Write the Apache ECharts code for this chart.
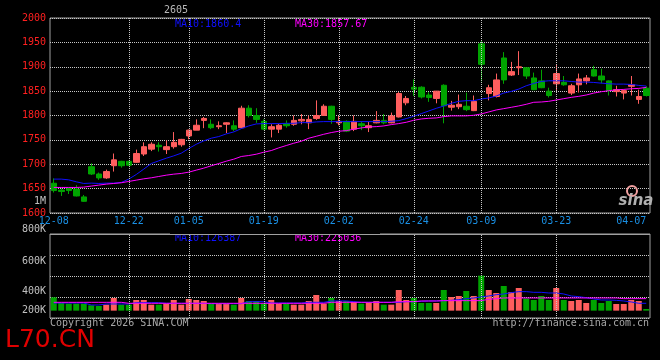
<!DOCTYPE html>
<html><head><meta charset="utf-8">
<script src="https://cdn.jsdelivr.net/npm/echarts@6/dist/echarts.min.js"></script>
<style>html,body{margin:0;padding:0;background:#000;}#c{width:660px;height:360px;}</style>
</head><body><div id="c"></div>
<script>
const dates = ['12-08','12-09','12-10','12-11','12-12','12-15','12-16','12-17','12-18','12-19','12-22','12-23','12-24','12-25','12-26','12-29','12-30','12-31',
'01-05','01-06','01-07','01-08','01-09','01-12','01-13','01-14','01-15','01-16','01-19','01-20','01-21','01-22','01-23','01-26','01-27','01-28','01-29','01-30',
'02-02','02-03','02-04','02-05','02-06','02-09','02-10','02-11','02-12','02-13','02-24','02-25','02-26','02-27',
'03-02','03-03','03-04','03-05','03-06','03-09','03-10','03-11','03-12','03-13','03-16','03-17','03-18','03-19','03-20','03-23','03-24','03-25','03-26','03-27','03-30','03-31',
'04-01','04-02','04-03','04-07','04-08','04-09'];
const labelDates = ['12-08','12-22','01-05','01-19','02-02','02-24','03-09','03-23','04-07'];
const gridDates = ['12-22','01-05','01-19','02-02','02-24','03-09','03-23'];

const opens  = [1661,1647,1650,1649,1633,1695,1680,1672,1697,1706,1706,1704,1721,1731,1739,1730,1736,1740,1758,1770,1790,1782,1777,1782,1779,1775,1815,1800,1788,1772,1772,1783,1782,1789,1785,1794,1800,1819,1785,1788,1772,1783,1775,1785,1790,1785,1797,1826,1858,1858,1842,1835,1862,1817,1818,1819,1810,1947,1845,1839,1918,1883,1898,1898,1877,1871,1850,1865,1868,1846,1863,1871,1894,1881,1871,1849,1846,1860,1833,1856];
const closes = [1646,1644,1646,1635,1624,1680,1672,1685,1709,1697,1698,1722,1736,1741,1736,1736,1745,1751,1770,1780,1794,1775,1779,1785,1772,1815,1800,1792,1772,1777,1780,1779,1790,1792,1792,1800,1819,1792,1788,1768,1788,1779,1779,1790,1785,1799,1845,1835,1854,1838,1837,1850,1820,1821,1823,1812,1829,1905,1857,1873,1873,1890,1900,1881,1853,1857,1841,1886,1863,1861,1875,1877,1881,1873,1851,1853,1851,1863,1839,1841];
const lows   = [1642,1635,1639,1634,1623,1678,1668,1670,1685,1693,1697,1703,1717,1727,1726,1721,1732,1736,1751,1770,1774,1772,1772,1764,1768,1774,1796,1785,1770,1755,1764,1775,1779,1782,1772,1791,1800,1783,1780,1766,1768,1770,1766,1784,1782,1784,1796,1821,1840,1835,1828,1825,1784,1810,1813,1809,1809,1870,1831,1837,1865,1881,1883,1875,1852,1856,1837,1851,1861,1842,1847,1864,1880,1866,1841,1839,1833,1841,1824,1839];
const highs  = [1671,1650,1651,1657,1637,1702,1683,1689,1722,1707,1707,1730,1745,1745,1745,1749,1766,1752,1771,1792,1797,1792,1788,1786,1790,1820,1821,1815,1792,1782,1783,1790,1800,1803,1800,1831,1823,1820,1799,1790,1800,1788,1787,1809,1803,1806,1848,1840,1874,1860,1848,1850,1864,1830,1843,1847,1841,1955,1863,1886,1930,1910,1932,1898,1888,1894,1857,1904,1881,1865,1886,1883,1902,1896,1872,1861,1853,1881,1853,1860];
const ma10 = [1669.5,1669.5,1668,1664,1660.6,1661.3,1660.6,1661.3,1661.3,1662.6,1669.5,1679,1690,1701.5,1707,1712.4,1717.2,1722.7,1732.2,1741,1748,1753.4,1756.8,1762.2,1766.3,1773.1,1778.6,1782.7,1783.4,1783.4,1783.4,1784,1784,1785.4,1785.4,1786.8,1787.5,1787.5,1787.5,1787.5,1787.5,1787.5,1787.5,1787.5,1787.5,1788.1,1789.5,1793.6,1798.4,1803.8,1809.3,1814.7,1819.5,1825,1829.1,1830.4,1830.4,1833.8,1835.9,1840,1846,1849.5,1854.2,1861,1865.8,1869.8,1871.2,1871.2,1871.2,1869.8,1868.5,1868.5,1867.8,1866.4,1865.1,1864.4,1864.4,1863.7,1861.7,1860.4];
const ma30 = [1652.4,1652.4,1652.4,1652.4,1653.1,1655.2,1657.2,1659.2,1660.6,1662,1664.7,1667.4,1670.1,1672.2,1674.9,1677.6,1679.7,1681.1,1683.8,1687.9,1692,1696.8,1701.5,1706.3,1710.4,1715.9,1717.9,1720.6,1724.7,1728.1,1733.6,1738.4,1743.1,1747.2,1753.4,1757.4,1761.5,1765,1767.7,1769,1771.8,1774.5,1776.5,1777.2,1778.6,1781.3,1783.4,1786.1,1790.2,1792.9,1794.3,1795,1797.7,1799.2,1799.2,1799.2,1800.5,1803.2,1807.3,1811.4,1814.1,1816.8,1819.6,1823,1827.1,1827.7,1829.1,1831.8,1834.5,1837.2,1839.3,1842,1846,1848.8,1850.8,1852.8,1853.5,1854.9,1855.6,1857.7];
const volumes = [127000,73000,66700,66700,66700,50800,44500,57200,120700,57200,57200,101600,101600,57200,57200,66700,101600,57200,111100,101600,92100,66700,66700,66700,57200,120700,92100,92100,66700,101600,66700,66700,57200,57200,92100,149200,66700,120700,92100,92100,82600,66700,82600,92100,57200,57200,196900,101600,120700,73000,73000,73000,196900,130200,139700,187300,139700,333400,196900,168300,235000,177800,215900,114300,101600,139700,101600,215900,101600,92100,101600,73000,101600,73000,92100,63500,63500,101600,92100,15900];
const volMa10 = [73000,73000,73000,73000,73000,54000,54000,63500,63500,63500,63500,76200,76200,76200,76200,69900,69900,69900,69900,69900,69900,66700,66700,66700,66700,66700,85700,85700,85700,73000,73000,73000,73000,73000,79400,79400,79400,92100,92100,92100,85700,79400,79400,79400,79400,79400,79400,85700,85700,88900,92100,92100,95300,98400,104800,114300,120700,130200,139700,152400,158800,171500,181000,181000,174600,174600,168300,168300,158800,139700,133400,123800,111100,101600,101600,98400,92100,82600,69900,69900];
const volMa30 = [79400,79400,79400,79400,79400,79400,79400,79400,79400,79400,69900,69900,69900,69900,69900,69900,69900,69900,69900,69900,69900,69900,69900,69900,69900,69900,69900,69900,69900,69900,69900,69900,69900,69900,69900,69900,69900,79400,79400,79400,79400,79400,79400,79400,79400,79400,85700,85700,85700,92100,92100,92100,95300,95300,95300,95300,95300,95300,108000,114300,120700,120700,120700,120700,120700,120700,120700,120700,120700,120700,120700,120700,120700,120700,120700,120700,114300,114300,114300,114300];
const volTickLabels = ['800K','600K','400K','200K'];
const maTexts = ['MA10:1860.4','MA30:1857.67'];
const volMaTexts = ['MA10:126387','MA30:225036'];

const UP = '#ff5e5e', DOWN = '#00a400';
const MONO = '"DejaVu Sans Mono", monospace';
const chart = echarts.init(document.getElementById('c'), null, {renderer:'canvas'});

const kData = dates.map((d,i)=>[opens[i],closes[i],lows[i],highs[i]]);
const vLine = (color)=>({silent:true,symbol:['none','none'],label:{show:false},
  lineStyle:{color:color,type:'dotted',width:1},data:gridDates.map(d=>({xAxis:d}))});

function txt(text,x,y,fill,align,size,extra){
  return Object.assign({type:'text',z:50,style:{text:text,x:x,y:y,fill:fill,
    font:(size||10)+'px '+MONO,align:align||'left',verticalAlign:'middle',
    textAlign:align||'left',textVerticalAlign:'middle'}},extra||{});
}
const volLabelY = [229,261,291,310];

const option = {
  backgroundColor:'#000',
  animation:false,
  grid:[
    {left:50,top:18,width:600,height:195,show:true,borderColor:'#a0a0a0',borderWidth:1,backgroundColor:'transparent'},
    {left:50,top:234,width:600,height:84,show:true,borderColor:'#a0a0a0',borderWidth:1,backgroundColor:'transparent'}
  ],
  xAxis:[
    {type:'category',gridIndex:0,data:dates,boundaryGap:true,
     axisLine:{show:false},axisTick:{show:false},splitLine:{show:false},
     axisLabel:{color:'#1a8fe3',fontFamily:MONO,fontSize:10,margin:3,
       interval:(idx,val)=>labelDates.indexOf(val)>=0}},
    {type:'category',gridIndex:1,data:dates,boundaryGap:true,
     axisLine:{show:false},axisTick:{show:false},splitLine:{show:false},axisLabel:{show:false}}
  ],
  yAxis:[
    {type:'value',gridIndex:0,min:1600,max:2000,interval:50,
     axisLine:{show:false},axisTick:{show:false},
     splitLine:{show:true,lineStyle:{color:'#c8c8c8',type:'dotted',width:1}},
     axisLabel:{color:'#ff2020',fontFamily:MONO,fontSize:10,margin:4,formatter:(v)=>String(v)}},
    {type:'value',gridIndex:1,min:-70000,max:730000,interval:200000,
     axisLine:{show:false},axisTick:{show:false},
     splitLine:{show:true,lineStyle:{color:'#c8c8c8',type:'dotted',width:1}},
     axisLabel:{show:false}}
  ],
  series:[
    {type:'candlestick',xAxisIndex:0,yAxisIndex:0,data:kData,barWidth:6,
     itemStyle:{color:UP,color0:DOWN,borderColor:UP,borderColor0:DOWN,borderWidth:1},
     markLine:vLine('#c8c8c8'),z:3},
    {type:'line',xAxisIndex:0,yAxisIndex:0,data:ma10,showSymbol:false,symbol:'none',
     lineStyle:{color:'#1010ff',width:1},z:4},
    {type:'line',xAxisIndex:0,yAxisIndex:0,data:ma30,showSymbol:false,symbol:'none',
     lineStyle:{color:'#ff00ff',width:1},z:4},
    {type:'bar',xAxisIndex:1,yAxisIndex:1,data:volumes,barWidth:6,
     itemStyle:{color:(p)=>closes[p.dataIndex]>=opens[p.dataIndex]?UP:DOWN},
     markLine:vLine('#c8c8c8'),z:3},
    {type:'line',xAxisIndex:1,yAxisIndex:1,data:volMa10,showSymbol:false,symbol:'none',
     lineStyle:{color:'#1010ff',width:1},z:4},
    {type:'line',xAxisIndex:1,yAxisIndex:1,data:volMa30,showSymbol:false,symbol:'none',
     lineStyle:{color:'#ff00ff',width:1},z:4}
  ],
  graphic:[
    txt('2605',164,10,'#b8b8b8','left',10),
    txt(maTexts[0],175,24,'#1010ff','left',10),
    txt(maTexts[1],295,24,'#ff00ff','left',10),
    txt('1M',46,201,'#c0c0c0','right',10),
    txt(volMaTexts[0],175,238.5,'#1010ff','left',10),
    txt(volMaTexts[1],295,238.5,'#ff00ff','left',10),
    {type:'rect',z:60,shape:{x:170,y:225,width:210,height:9},style:{fill:'#000'}},
    {type:'line',z:61,shape:{x1:50,y1:234.5,x2:650,y2:234.5},style:{stroke:'#a0a0a0',lineWidth:1}},
    txt(volTickLabels[0],46,volLabelY[0],'#c0c0c0','right',10),
    txt(volTickLabels[1],46,volLabelY[1],'#c0c0c0','right',10),
    txt(volTickLabels[2],46,volLabelY[2],'#c0c0c0','right',10),
    txt(volTickLabels[3],46,volLabelY[3],'#c0c0c0','right',10),
    txt('Copyright 2026 SINA.COM',50,323.5,'#a8a8a8','left',10),
    txt('http://finance.sina.com.cn',649,323.5,'#a8a8a8','right',10),
    {type:'text',z:50,style:{text:'L70.CN',x:5,y:340,fill:'#e00000',font:'25px "DejaVu Sans", sans-serif',
      align:'left',verticalAlign:'middle',textAlign:'left',textVerticalAlign:'middle'}},
    {type:'circle',z:50,shape:{cx:632,cy:191,r:5},style:{fill:'none',stroke:'#f0a0a0',lineWidth:2}},
    {type:'text',z:51,style:{text:'sina',x:636,y:201,fill:'#b0b0b0',font:'italic bold 15px "DejaVu Sans", sans-serif',
      align:'center',verticalAlign:'middle',textAlign:'center',textVerticalAlign:'middle'}}
  ]
};
chart.setOption(option);
</script>
</body></html>
